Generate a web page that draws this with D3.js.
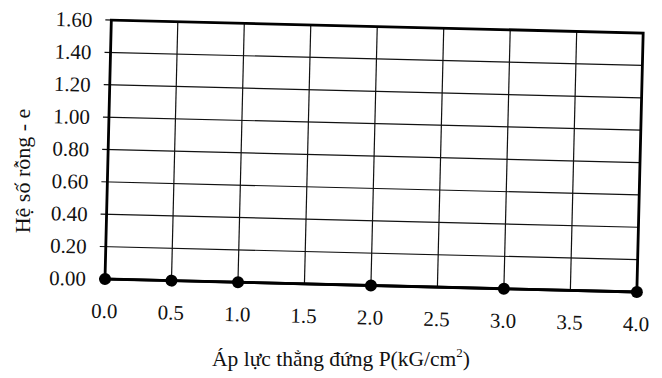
<!DOCTYPE html>
<html>
<head>
<meta charset="utf-8">
<script src="https://cdn.jsdelivr.net/npm/d3@7"></script>
<style>
  html, body { margin: 0; padding: 0; background: #fff; }
  svg text { font-family: "Liberation Serif", "Times New Roman", serif; fill: #111; }
</style>
</head>
<body>
<svg id="chart" width="662" height="378"></svg>
<script>
// Void ratio e versus vertical pressure P
const pressure = [0.0, 0.5, 1.0, 2.0, 3.0, 4.0];
const voidRatio = [0.00, 0.00, 0.00, 0.00, 0.00, 0.00];
const xTicks = [0.0, 0.5, 1.0, 1.5, 2.0, 2.5, 3.0, 3.5, 4.0];
const yTicks = [0.00, 0.20, 0.40, 0.60, 0.80, 1.00, 1.20, 1.40, 1.60];

const svg = d3.select("#chart");
const plotLeft = 105, plotTop = 20, plotWidth = 532, plotHeight = 259;

const x = d3.scaleLinear().domain([0, 4]).range([0, plotWidth]);
const y = d3.scaleLinear().domain([0, 1.6]).range([plotHeight, 0]);

// The plot sits slightly tilted, turned about its lower-left corner
const g = svg.append("g")
  .attr("transform", `translate(${plotLeft},${plotTop + plotHeight}) rotate(1.4) translate(0,${-plotHeight})`);

// Horizontal grid
g.append("g").selectAll("line").data(yTicks).join("line")
  .attr("x1", -6).attr("x2", plotWidth)
  .attr("y1", d => y(d)).attr("y2", d => y(d))
  .attr("stroke", "#111").attr("stroke-width", 1.2);

// Vertical grid
g.append("g").selectAll("line").data(xTicks).join("line")
  .attr("x1", d => x(d)).attr("x2", d => x(d))
  .attr("y1", 0).attr("y2", plotHeight)
  .attr("stroke", "#111").attr("stroke-width", 1.2);

// Frame
g.append("rect")
  .attr("x", 0).attr("y", 0).attr("width", plotWidth).attr("height", plotHeight)
  .attr("fill", "none").attr("stroke", "#000").attr("stroke-width", 2.8);

// Y tick labels
g.append("g").selectAll("text").data(yTicks).join("text")
  .attr("x", -19).attr("y", d => y(d)).attr("dy", "0.35em")
  .attr("text-anchor", "end").attr("font-size", 21)
  .text(d => d3.format(".2f")(d));

// X tick labels
g.append("g").selectAll("text").data(xTicks).join("text")
  .attr("x", d => x(d)).attr("y", plotHeight + 39)
  .attr("text-anchor", "middle").attr("font-size", 21)
  .text(d => d3.format(".1f")(d));

// Data line and points
const line = d3.line().x((d, i) => x(pressure[i])).y(d => y(d));
g.append("path").datum(voidRatio)
  .attr("d", line).attr("fill", "none")
  .attr("stroke", "#000").attr("stroke-width", 2.8);
g.append("g").selectAll("circle").data(voidRatio).join("circle")
  .attr("cx", (d, i) => x(pressure[i])).attr("cy", d => y(d))
  .attr("r", 6).attr("fill", "#000");

// Axis titles
const xt = svg.append("text")
  .attr("x", 341).attr("y", 366).attr("text-anchor", "middle").attr("font-size", 21.5);
xt.append("tspan").text("Áp lực thẳng đứng P(kG/cm");
xt.append("tspan").attr("font-size", 13).attr("dy", -9).text("2");
xt.append("tspan").attr("dy", 9).text(")");

svg.append("text")
  .attr("transform", "translate(30,171) rotate(-90)")
  .attr("text-anchor", "middle").attr("font-size", 22)
  .text("Hệ số rỗng - e");
</script>
</body>
</html>
